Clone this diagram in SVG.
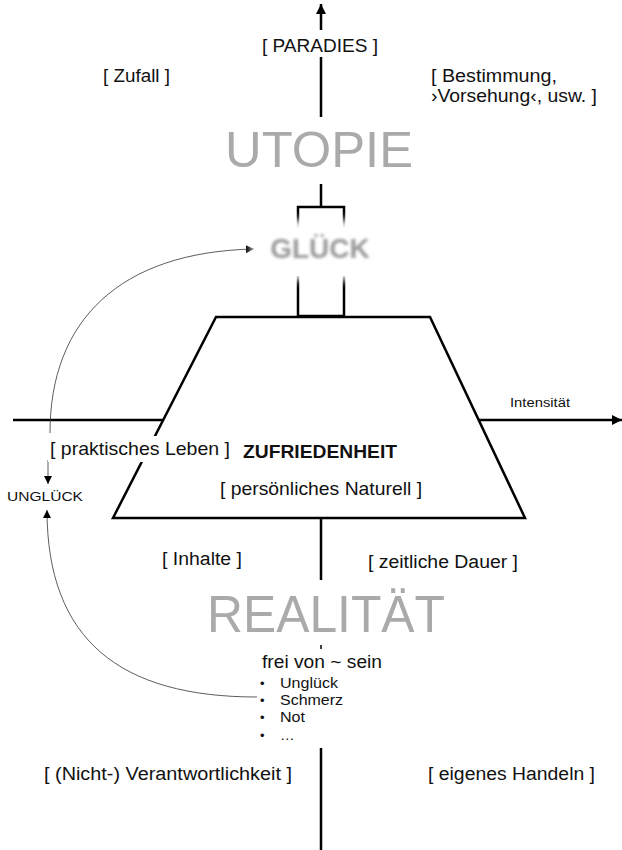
<svg xmlns="http://www.w3.org/2000/svg" width="622" height="850" viewBox="0 0 622 850">
<style>
.t{font-family:"Liberation Sans",Arial,sans-serif;fill:#111}
.big{font-family:"Liberation Sans",Arial,sans-serif;fill:#aaa}
.ax{stroke:#000;stroke-width:2.5;fill:none}
.thin{stroke:#333;stroke-width:0.8;fill:none}
</style>
<defs>
<marker id="ah" viewBox="0 0 10 10" refX="10" refY="5" markerWidth="8" markerHeight="8" markerUnits="userSpaceOnUse" orient="auto"><path d="M0,0 L10,5 L0,10 z" fill="#000"/></marker>
<marker id="ahBig" viewBox="0 0 10 10" refX="10" refY="5" markerWidth="12" markerHeight="10" markerUnits="userSpaceOnUse" orient="auto"><path d="M0,0 L10,5 L0,10 z" fill="#000"/></marker>
<filter id="blur1" x="-20%" y="-40%" width="140%" height="180%"><feGaussianBlur stdDeviation="1.6"/></filter>
<filter id="blur2" x="-20%" y="-40%" width="140%" height="180%"><feGaussianBlur stdDeviation="4"/></filter>
</defs>

<g id="connectors">
<line class="ax" x1="321" y1="30" x2="321" y2="4" marker-end="url(#ahBig)"/>
<line class="ax" x1="321" y1="57" x2="321" y2="117"/>
<line class="ax" x1="321" y1="184" x2="321" y2="207"/>
<path class="ax" d="M298,228 V207 H344 V228"/>
<path class="ax" d="M298,276 V316 H344 V276"/>
<line class="ax" x1="13" y1="420" x2="200" y2="420"/>
<line class="ax" x1="440" y1="420" x2="622" y2="420" marker-end="url(#ahBig)"/>
<line class="ax" x1="321" y1="518" x2="321" y2="580"/>
<line x1="321" y1="645" x2="321" y2="649" stroke="#000" stroke-width="1.5"/>
<line class="ax" x1="321" y1="748" x2="321" y2="850"/>
<path class="thin" d="M50,433 C50,320 120,252 254,249" marker-end="url(#ah)"/>
<line class="thin" x1="48" y1="460" x2="48" y2="484" marker-end="url(#ah)"/>
<path class="thin" d="M257,697 C120,697 47,640 47,510" marker-end="url(#ah)"/>
</g>

<g id="glueck">
<rect x="252" y="220" width="122" height="60" fill="#fff" filter="url(#blur2)"/>
<text x="320" y="258" font-family="Liberation Sans,Arial,sans-serif" font-size="28" font-weight="bold" text-anchor="middle" fill="#999" filter="url(#blur1)">GLÜCK</text>
</g>

<g id="zufriedenheit">
<polygon points="216,317 430,317 525,518 113,518" fill="#fff" stroke="#000" stroke-width="2.5" stroke-linejoin="miter"/>
<text class="t" x="243" y="458" font-size="18" font-weight="bold" textLength="154" lengthAdjust="spacingAndGlyphs">ZUFRIEDENHEIT</text>
<text class="t" x="220" y="495" font-size="18.5" textLength="202" lengthAdjust="spacingAndGlyphs">[ persönliches Naturell ]</text>
</g>

<g id="praktisch">
<rect x="48" y="436" width="186" height="26" fill="#fff"/>
<text class="t" x="50" y="455" font-size="18.5" textLength="180" lengthAdjust="spacingAndGlyphs">[ praktisches Leben ]</text>
</g>

<g id="utopie"><text class="big" x="225" y="167" font-size="50" textLength="188" lengthAdjust="spacingAndGlyphs">UTOPIE</text></g>
<g id="realitaet"><text class="big" x="207" y="632" font-size="52" textLength="238" lengthAdjust="spacingAndGlyphs">REALITÄT</text></g>
<g id="paradies"><text class="t" x="262" y="52" font-size="18.5" textLength="116" lengthAdjust="spacingAndGlyphs">[ PARADIES ]</text></g>
<g id="zufall"><text class="t" x="103" y="82" font-size="17.5" textLength="67" lengthAdjust="spacingAndGlyphs">[ Zufall ]</text></g>
<g id="bestimmung"><text class="t" x="431" y="82" font-size="18" textLength="126" lengthAdjust="spacingAndGlyphs">[ Bestimmung,</text><text class="t" x="431" y="102" font-size="18" textLength="166" lengthAdjust="spacingAndGlyphs">›Vorsehung‹, usw. ]</text></g>
<g id="intensitaet"><text class="t" x="510" y="407" font-size="12.5" textLength="60" lengthAdjust="spacingAndGlyphs">Intensität</text></g>
<g id="unglueck"><text class="t" x="7" y="501" font-size="13" textLength="76" lengthAdjust="spacingAndGlyphs">UNGLÜCK</text></g>
<g id="inhalte"><text class="t" x="162" y="565" font-size="18" textLength="80" lengthAdjust="spacingAndGlyphs">[ Inhalte ]</text></g>
<g id="dauer"><text class="t" x="368" y="568" font-size="18" textLength="150" lengthAdjust="spacingAndGlyphs">[ zeitliche Dauer ]</text></g>
<g id="freivon">
<text class="t" x="262" y="668" font-size="18" textLength="120" lengthAdjust="spacingAndGlyphs">frei von ~ sein</text>
<text class="t" x="260" y="688" font-size="13">•</text><text class="t" x="280" y="688" font-size="14.5" textLength="58" lengthAdjust="spacingAndGlyphs">Unglück</text>
<text class="t" x="260" y="705" font-size="13">•</text><text class="t" x="280" y="705" font-size="14.5" textLength="63" lengthAdjust="spacingAndGlyphs">Schmerz</text>
<text class="t" x="260" y="722" font-size="13">•</text><text class="t" x="280" y="722" font-size="14.5" textLength="25" lengthAdjust="spacingAndGlyphs">Not</text>
<text class="t" x="260" y="740" font-size="13">•</text><text class="t" x="280" y="740" font-size="14.5">…</text>
</g>
<g id="verantwortung"><text class="t" x="44" y="780" font-size="18" textLength="248" lengthAdjust="spacingAndGlyphs">[ (Nicht-) Verantwortlichkeit ]</text></g>
<g id="handeln"><text class="t" x="428" y="780" font-size="18" textLength="167" lengthAdjust="spacingAndGlyphs">[ eigenes Handeln ]</text></g>
</svg>
